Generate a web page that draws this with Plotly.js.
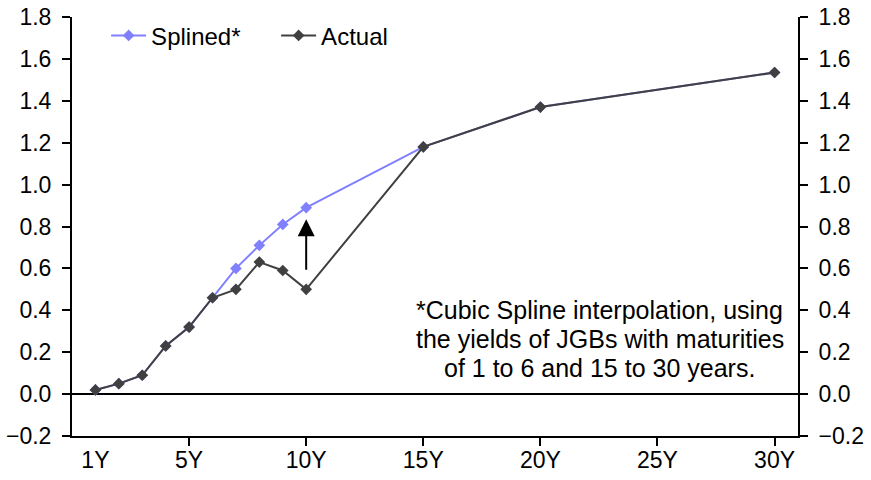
<!DOCTYPE html>
<html>
<head>
<meta charset="utf-8">
<script src="https://cdn.plot.ly/plotly-3.0.1.min.js"></script>
<style>html,body{margin:0;padding:0;background:#fff;}</style>
</head>
<body>
<div id="chart" style="width:871px;height:480px;"></div>
<script>
var maturities = [1, 2, 3, 4, 5, 6, 7, 8, 9, 10, 15, 20, 30];
var splined = [0.02, 0.05, 0.09, 0.23, 0.32, 0.46, 0.60, 0.71, 0.81, 0.89, 1.18, 1.37, 1.535];
var actual = [0.02, 0.05, 0.09, 0.23, 0.32, 0.46, 0.50, 0.63, 0.59, 0.50, 1.18, 1.37, 1.535];
var xTickVals = [1, 5, 10, 15, 20, 25, 30];
var xTickText = ['1Y', '5Y', '10Y', '15Y', '20Y', '25Y', '30Y'];
var xTickMarks = [0, 5, 10, 15, 20, 25, 30];
var noteLines = ['*Cubic Spline interpolation, using', 'the yields of JGBs with maturities', 'of 1 to 6 and 15 to 30 years.'];

var FONT = '"Liberation Sans", Arial, sans-serif';

var traces = [
  {
    x: maturities, y: splined, name: 'Splined*', type: 'scatter', mode: 'lines+markers',
    xaxis: 'x', yaxis: 'y',
    line: {color: '#8080FF', width: 2},
    marker: {symbol: 'diamond', size: 9, color: '#8080FF'}
  },
  {
    x: maturities, y: actual, name: 'Actual', type: 'scatter', mode: 'lines+markers',
    xaxis: 'x', yaxis: 'y2',
    line: {color: '#404040', width: 2},
    marker: {symbol: 'diamond', size: 9, color: '#404040'}
  }
];

var yCommon = {
  range: [-0.2, 1.8], tickmode: 'linear', tick0: -0.2, dtick: 0.2, tickformat: '.1f',
  ticks: 'outside', ticklen: 8, tickwidth: 2, tickcolor: '#000',
  showline: true, linecolor: '#000', linewidth: 2, showgrid: false,
  tickfont: {family: FONT, size: 23, color: '#000'}, ticklabelstandoff: 6
};

var noteY = [0.3007, 0.2315, 0.1623];
var annotations = [
  {
    x: 10, y: 0.835, ax: 10, ay: 0.586, xref: 'x', yref: 'y', axref: 'x', ayref: 'y',
    showarrow: true, arrowhead: 2, arrowsize: 1.7, arrowwidth: 2, arrowcolor: '#000', text: ''
  }
];
noteLines.forEach(function (t, i) {
  annotations.push({
    x: 0.727, y: noteY[i], xref: 'paper', yref: 'paper', xanchor: 'center', yanchor: 'middle',
    showarrow: false, align: 'center', text: t,
    font: {family: FONT, size: 25, color: '#000'}
  });
});

var layout = {
  width: 871, height: 480,
  margin: {l: 72, r: 73, t: 17, b: 44},
  paper_bgcolor: '#fff', plot_bgcolor: '#fff',
  font: {family: FONT, size: 23, color: '#000'},
  showlegend: true,
  legend: {
    orientation: 'h', x: 0.047, y: 0.955, xanchor: 'left', yanchor: 'middle',
    bgcolor: 'rgba(0,0,0,0)', font: {family: FONT, size: 24, color: '#000'},
    traceorder: 'normal', entrywidth: 120, itemwidth: 35
  },
  xaxis: {
    range: [0, 31], tickmode: 'array', tickvals: xTickVals, ticktext: xTickText,
    ticks: 'inside', ticklen: 0, tickwidth: 0,
    minor: {tickmode: 'array', tickvals: xTickMarks, ticks: 'outside', ticklen: 8, tickwidth: 2, tickcolor: '#000', showgrid: false},
    showline: true, linecolor: '#000', linewidth: 2, showgrid: false, zeroline: false,
    tickfont: {family: FONT, size: 23, color: '#000'}, ticklabelstandoff: 2
  },
  yaxis: Object.assign({}, yCommon, {side: 'left', zeroline: true, zerolinecolor: '#000', zerolinewidth: 2}),
  yaxis2: Object.assign({}, yCommon, {side: 'right', overlaying: 'y', zeroline: false}),
  annotations: annotations
};

Plotly.newPlot('chart', traces, layout, {displayModeBar: false, staticPlot: true});
</script>
</body>
</html>
